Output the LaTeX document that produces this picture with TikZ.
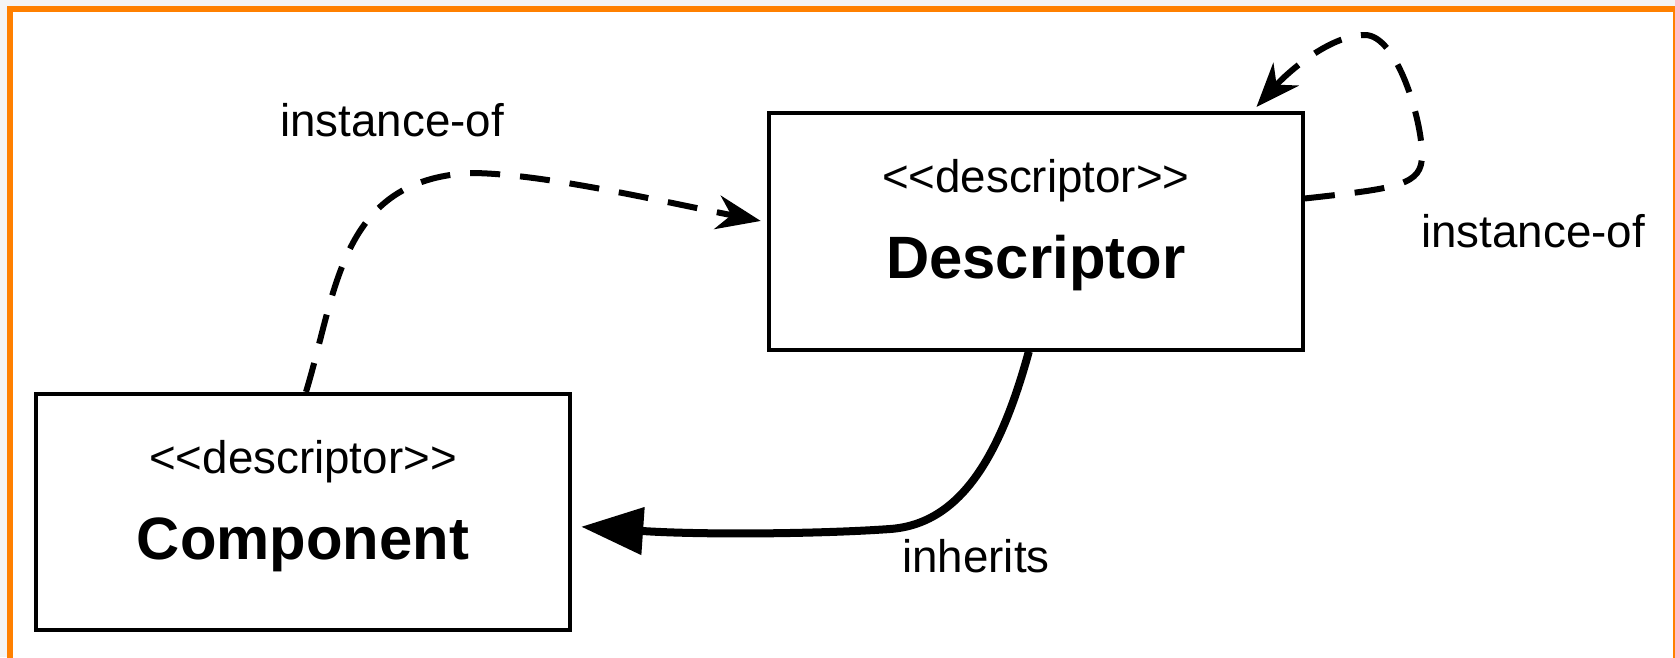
\documentclass[tikz,border=0pt]{standalone}
\usepackage{fontspec}
\newfontfamily\diagfont{Liberation Sans}[Ligatures=TeXOff]
\usepackage{xcolor}
\usepackage{tikz}
\usetikzlibrary{calc,arrows.meta}
\definecolor{frameorange}{HTML}{FF8000}
\definecolor{pagegray}{HTML}{F4F4F4}
\tikzset{
  box/.style={draw, line width=0.04cm, minimum width=5.34cm, minimum height=2.36cm, inner sep=0pt},
  stereo/.style={anchor=base, inner sep=0pt, font=\diagfont\fontsize{13}{15}\selectfont},
  title/.style={anchor=base, inner sep=0pt, font=\diagfont\fontsize{17}{20}\selectfont\bfseries},
  instof/.style={line width=0.06cm, dash pattern=on 0.3cm off 0.2cm,
    -{Stealth[length=0.44cm,width=0.34cm,inset=0.14cm]}, shorten >=0.06cm},
  inh/.style={line width=0.08cm, -{Triangle[length=0.62cm,width=0.46cm]}, shorten >=0.09cm}
}
\newcommand{\classbox}[3]{
\node[box] (#1) at (#2) {};
\node[stereo] (#1st) at ($(#1.center) + (0, -39)$) {<<descriptor>>};
\node[title] (#1nm) at ($(#1.center) + (0, 47)$) {#3};
}

\begin{document}
\begin{tikzpicture}[x=0.01cm, y=-0.01cm]
\useasboundingbox (0, 0) rectangle (1675, 657);
\clip (0, 0) rectangle (1675, 657);
\fill[pagegray] (0, 0) rectangle (1675, 657);
\draw[frameorange, line width=0.058cm, fill=white] (9.9, 9) rectangle (1676, 700);
\classbox{desc}{1035.8, 231.5}{Descriptor}
\classbox{comp}{303, 512}{Component}
\draw[instof] ($(comp.north) + (3, 0)$)
   .. controls (337, 290) and (340, 180) .. (470, 173)
   .. controls (540, 173) and (660, 201) .. (desc.178);
\draw[instof] (desc.7)
   .. controls (1400, 188) and (1422, 185) .. (1422, 155)
   .. controls (1422, 120) and (1397, 35) .. (1365, 35)
   .. controls (1330, 35) and (1288, 72) .. (desc.29);
\draw[inh] ($(desc.south) + (-7, 0)$)
   .. controls (1000, 457) and (960, 524) .. (890, 529)
   .. controls (820, 534) and (700, 535) .. (comp.-3);
\node[stereo] (instlbl) at (392, 136) {instance-of};
\node[stereo] (selflbl) at (1533, 247) {instance-of};
\node[stereo] (inhlbl) at (976, 572) {inherits};
\end{tikzpicture}
\end{document}
